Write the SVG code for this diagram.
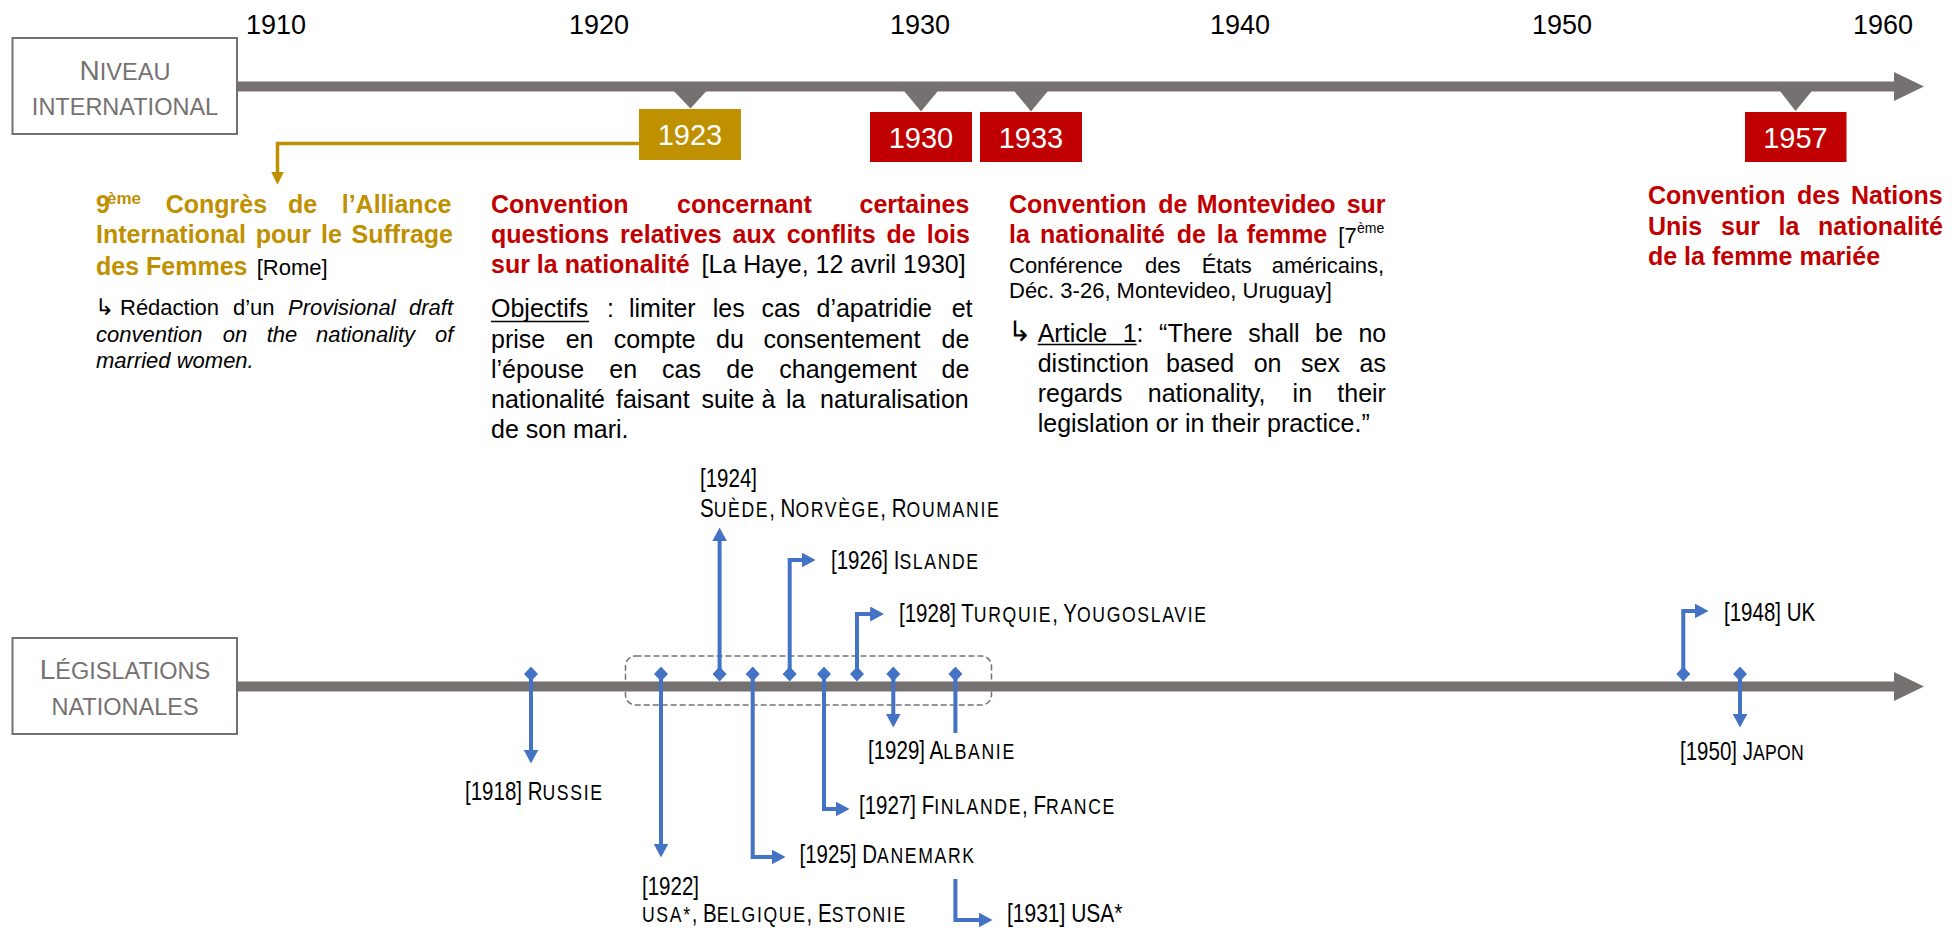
<svg xmlns="http://www.w3.org/2000/svg" width="1957" height="928" viewBox="0 0 1957 928">
<style>
text{font-family:"Liberation Sans",Arial,sans-serif}
.yr{font-size:27px;fill:#000;text-anchor:middle}
.lane{fill:#fff;stroke:#767171;stroke-width:2}
.lanet{font-size:23.5px;fill:#767171;text-anchor:middle}
.big{font-size:28px}
.axis{fill:#767171}
.bx{font-size:29px;fill:#fff;text-anchor:middle}
.tg{font-size:25px;font-weight:bold;fill:#BF9000}
.tr{font-size:25px;font-weight:bold;fill:#C00000}
.b{font-size:25px;fill:#000}
.b22{font-size:22px;fill:#000}
.it{font-style:italic}
.arw{font-family:"DejaVu Sans",sans-serif;font-weight:200}
.lab{font-size:25px;fill:#000}
.sc{font-size:21.5px;letter-spacing:2px}
.blue{fill:none;stroke:#4472C4;stroke-width:4;stroke-linejoin:miter}
.ul{stroke:#000;stroke-width:1.5}
</style>
<defs>
<marker id="arr" markerUnits="userSpaceOnUse" markerWidth="14" markerHeight="15" viewBox="0 0 13 14" refX="5" refY="7" orient="auto">
<path d="M0,0 L13,7 L0,14 z" fill="#4472C4"/>
</marker>
<marker id="dia" markerUnits="userSpaceOnUse" markerWidth="14" markerHeight="15" viewBox="0 0 13 14" refX="6.5" refY="7">
<path d="M0,7 L6.5,0 L13,7 L6.5,14 z" fill="#4472C4"/>
</marker>
<marker id="garr" markerUnits="userSpaceOnUse" markerWidth="13" markerHeight="13" viewBox="0 0 12 12" refX="4" refY="6" orient="auto">
<path d="M0,0 L12,6 L0,12 z" fill="#BF9000"/>
</marker>
</defs>
<rect width="1957" height="928" fill="#fff"/>

<g id="years">
<text class="yr" x="276" y="34">1910</text>
<text class="yr" x="599" y="34">1920</text>
<text class="yr" x="920" y="34">1930</text>
<text class="yr" x="1240" y="34">1940</text>
<text class="yr" x="1562" y="34">1950</text>
<text class="yr" x="1883" y="34">1960</text>
</g>

<g id="axis-international">
<rect class="axis" x="236" y="81.5" width="1660" height="10"/>
<polygon class="axis" points="1894,72 1924,86.5 1894,101"/>
<polygon class="axis" points="669,86 711,86 690.5,108.5"/>
<polygon class="axis" points="900,86 942,86 921,111.5"/>
<polygon class="axis" points="1010,86 1052,86 1031,111.5"/>
<polygon class="axis" points="1776,86 1816,86 1795.5,111"/>
</g>

<g id="axis-national">
<rect class="axis" x="236" y="681.5" width="1660" height="10"/>
<polygon class="axis" points="1894,672 1924,686.5 1894,701"/>
<rect x="625.5" y="656" width="366" height="49" rx="10" fill="none" stroke="#767171" stroke-width="1.5" stroke-dasharray="6,3"/>
</g>

<g id="node-niveau-international">
<rect class="lane" x="12.5" y="38" width="224.5" height="96"/>
<text class="lanet" x="125" y="80"><tspan class="big">N</tspan>IVEAU</text>
<text class="lanet" x="125" y="115">INTERNATIONAL</text>
</g>

<g id="node-legislations-nationales">
<rect class="lane" x="12.5" y="638" width="224.5" height="96"/>
<text class="lanet" x="125" y="679"><tspan class="big">L</tspan>ÉGISLATIONS</text>
<text class="lanet" x="125" y="715">NATIONALES</text>
</g>

<g id="node-1923">
<rect x="639" y="109" width="102" height="51" fill="#BF9000"/>
<text class="bx" x="690" y="145">1923</text>
</g>
<g id="node-1930">
<rect x="870" y="112" width="102" height="50" fill="#C00000"/>
<text class="bx" x="921" y="148">1930</text>
</g>
<g id="node-1933">
<rect x="980" y="112" width="102" height="50" fill="#C00000"/>
<text class="bx" x="1031" y="148">1933</text>
</g>
<g id="node-1957">
<rect x="1745" y="112" width="101.5" height="50" fill="#C00000"/>
<text class="bx" x="1795.5" y="148">1957</text>
</g>

<g id="text-1923">
<text class="tg"><tspan x="96" y="213">9</tspan><tspan x="107" y="204" font-size="17">ème</tspan><tspan x="165.7" y="213">Congrès</tspan><tspan x="288" y="213">de</tspan><tspan x="341.7" y="213">l’Alliance</tspan></text>
<text class="tg"><tspan x="96" y="243">International</tspan><tspan x="255.7" y="243">pour</tspan><tspan x="321" y="243">le</tspan><tspan x="351.6" y="243">Suffrage</tspan></text>
<text class="tg" x="96" y="275">des Femmes</text>
<text class="b22" x="256.7" y="275">[Rome]</text>
<text class="b22"><tspan class="arw" x="95" y="315" font-size="23">↳</tspan><tspan x="120" y="315">Rédaction</tspan><tspan x="233" y="315">d’un</tspan><tspan class="it" x="288" y="315">Provisional</tspan><tspan class="it" x="409" y="315">draft</tspan></text>
<text class="b22 it"><tspan x="96" y="341.7">convention</tspan><tspan x="222.7" y="341.7">on</tspan><tspan x="266.7" y="341.7">the</tspan><tspan x="316" y="341.7">nationality</tspan><tspan x="435" y="341.7">of</tspan></text>
<text class="b22 it" x="96" y="368">married women.</text>
</g>

<g id="text-1930">
<text class="tr"><tspan x="491" y="213">Convention</tspan><tspan x="677" y="213">concernant</tspan><tspan x="859.5" y="213">certaines</tspan></text>
<text class="tr"><tspan x="491" y="243">questions</tspan><tspan x="620.1" y="243">relatives</tspan><tspan x="732.6" y="243">aux</tspan><tspan x="786.7" y="243">conflits</tspan><tspan x="886.6" y="243">de</tspan><tspan x="926.8" y="243">lois</tspan></text>
<text class="tr" x="491" y="273">sur la nationalité</text>
<text class="b" x="701.6" y="273" font-size="23">[La Haye, 12 avril 1930]</text>
<text class="b"><tspan x="491" y="316.7">Objectifs</tspan><tspan x="607" y="316.7">:</tspan><tspan x="629" y="316.7">limiter</tspan><tspan x="712.7" y="316.7">les</tspan><tspan x="761.4" y="316.7">cas</tspan><tspan x="816.5" y="316.7">d’apatridie</tspan><tspan x="951.7" y="316.7">et</tspan></text>
<line class="ul" x1="491" y1="321.5" x2="589" y2="321.5"/>
<text class="b"><tspan x="491" y="347.5">prise</tspan><tspan x="565.7" y="347.5">en</tspan><tspan x="613.7" y="347.5">compte</tspan><tspan x="716" y="347.5">du</tspan><tspan x="763.4" y="347.5">consentement</tspan><tspan x="941.6" y="347.5">de</tspan></text>
<text class="b"><tspan x="491" y="378">l’épouse</tspan><tspan x="609.3" y="378">en</tspan><tspan x="662" y="378">cas</tspan><tspan x="726.3" y="378">de</tspan><tspan x="779.3" y="378">changement</tspan><tspan x="941.6" y="378">de</tspan></text>
<text class="b"><tspan x="491" y="408">nationalité</tspan><tspan x="616" y="408">faisant</tspan><tspan x="701.6" y="408">suite</tspan><tspan x="761.4" y="408">à</tspan><tspan x="786" y="408">la</tspan><tspan x="820" y="408">naturalisation</tspan></text>
<text class="b" x="491" y="438">de son mari.</text>
</g>

<g id="text-1933">
<text class="tr"><tspan x="1009" y="213">Convention</tspan><tspan x="1158.3" y="213">de</tspan><tspan x="1196.7" y="213">Montevideo</tspan><tspan x="1346.7" y="213">sur</tspan></text>
<text class="tr"><tspan x="1009" y="243">la</tspan><tspan x="1040" y="243">nationalité</tspan><tspan x="1176.7" y="243">de</tspan><tspan x="1216.7" y="243">la</tspan><tspan x="1246.7" y="243">femme</tspan></text>
<text class="b22"><tspan x="1338.3" y="243">[7</tspan><tspan x="1357" y="233" font-size="14">ème</tspan></text>
<text class="b22"><tspan x="1009" y="273">Conférence</tspan><tspan x="1145" y="273">des</tspan><tspan x="1201.7" y="273">États</tspan><tspan x="1271.7" y="273">américains,</tspan></text>
<text class="b22" x="1009" y="298">Déc. 3-26, Montevideo, Uruguay]</text>
<text class="b"><tspan class="arw" x="1008" y="341" font-size="28">↳</tspan><tspan x="1037.7" y="341.7">Article</tspan><tspan x="1122.7" y="341.7">1:</tspan><tspan x="1159.1" y="341.7">“There</tspan><tspan x="1248.2" y="341.7">shall</tspan><tspan x="1315.1" y="341.7">be</tspan><tspan x="1358.4" y="341.7">no</tspan></text>
<line class="ul" x1="1037.7" y1="344.5" x2="1136.6" y2="344.5"/>
<text class="b"><tspan x="1037.7" y="371.7">distinction</tspan><tspan x="1166" y="371.7">based</tspan><tspan x="1253.7" y="371.7">on</tspan><tspan x="1301.1" y="371.7">sex</tspan><tspan x="1359.6" y="371.7">as</tspan></text>
<text class="b"><tspan x="1037.7" y="401.7">regards</tspan><tspan x="1147.8" y="401.7">nationality,</tspan><tspan x="1292.6" y="401.7">in</tspan><tspan x="1337.3" y="401.7">their</tspan></text>
<text class="b" x="1037.7" y="431.7">legislation or in their practice.”</text>
</g>

<g id="text-1957">
<text class="tr"><tspan x="1648" y="204">Convention</tspan><tspan x="1797" y="204">des</tspan><tspan x="1851" y="204">Nations</tspan></text>
<text class="tr"><tspan x="1648" y="234.5">Unis</tspan><tspan x="1721" y="234.5">sur</tspan><tspan x="1778.5" y="234.5">la</tspan><tspan x="1818" y="234.5">nationalité</tspan></text>
<text class="tr" x="1648" y="265">de la femme mariée</text>
</g>

<g id="connectors">
<path d="M639,143.5 H277.5 V176" fill="none" stroke="#BF9000" stroke-width="3.5" marker-end="url(#garr)"/>
<path class="blue" d="M531,674 V755" marker-start="url(#dia)" marker-end="url(#arr)"/>
<path class="blue" d="M661,674 V849" marker-start="url(#dia)" marker-end="url(#arr)"/>
<path class="blue" d="M719.6,674 V536" marker-start="url(#dia)" marker-end="url(#arr)"/>
<path class="blue" d="M752.7,674 V857 H777" marker-start="url(#dia)" marker-end="url(#arr)"/>
<path class="blue" d="M789.7,674 V560 H807" marker-start="url(#dia)" marker-end="url(#arr)"/>
<path class="blue" d="M824,674 V809 H841" marker-start="url(#dia)" marker-end="url(#arr)"/>
<path class="blue" d="M857,674 V614 H875.5" marker-start="url(#dia)" marker-end="url(#arr)"/>
<path class="blue" d="M893.3,674 V719" marker-start="url(#dia)" marker-end="url(#arr)"/>
<path class="blue" d="M955.4,674 V733" marker-start="url(#dia)"/>
<path class="blue" d="M955.4,879 V920 H984" marker-end="url(#arr)"/>
<path class="blue" d="M1683.3,674 V611 H1700" marker-start="url(#dia)" marker-end="url(#arr)"/>
<path class="blue" d="M1740,674 V719" marker-start="url(#dia)" marker-end="url(#arr)"/>
</g>

<g id="labels-national">
<text class="lab" transform="translate(700,487) scale(0.82,1)">[1924]</text>
<text class="lab" transform="translate(700,517) scale(0.82,1)">S<tspan class="sc">UÈDE</tspan>, N<tspan class="sc">ORVÈGE</tspan>, R<tspan class="sc">OUMANIE</tspan></text>
<text class="lab" transform="translate(831,569) scale(0.82,1)">[1926] I<tspan class="sc">SLANDE</tspan></text>
<text class="lab" transform="translate(899,622) scale(0.82,1)">[1928] T<tspan class="sc">URQUIE</tspan>, Y<tspan class="sc">OUGOSLAVIE</tspan></text>
<text class="lab" transform="translate(868,759) scale(0.82,1)">[1929] A<tspan class="sc">LBANIE</tspan></text>
<text class="lab" transform="translate(465,800) scale(0.82,1)">[1918] R<tspan class="sc">USSIE</tspan></text>
<text class="lab" transform="translate(859,814) scale(0.82,1)">[1927] F<tspan class="sc">INLANDE</tspan>, F<tspan class="sc">RANCE</tspan></text>
<text class="lab" transform="translate(799.5,863) scale(0.82,1)">[1925] D<tspan class="sc">ANEMARK</tspan></text>
<text class="lab" transform="translate(642,895) scale(0.82,1)">[1922]</text>
<text class="lab" transform="translate(642,922) scale(0.82,1)"><tspan class="sc">USA*</tspan>, B<tspan class="sc">ELGIQUE</tspan>, E<tspan class="sc">STONIE</tspan></text>
<text class="lab" transform="translate(1007,922) scale(0.84,1)">[1931] USA*</text>
<text class="lab" transform="translate(1724,621) scale(0.82,1)">[1948] UK</text>
<text class="lab" transform="translate(1680,760) scale(0.82,1)">[1950] J<tspan class="sc" style="letter-spacing:0.3px">APON</tspan></text>
</g>
</svg>
